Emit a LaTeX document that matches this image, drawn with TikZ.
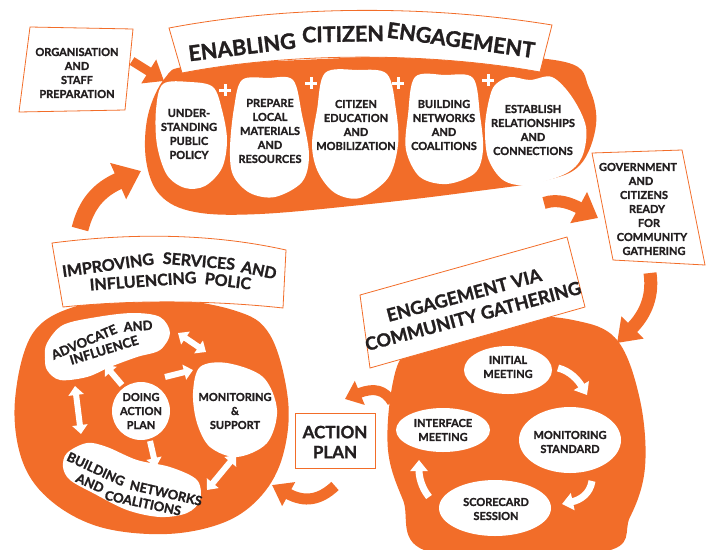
\documentclass[tikz,border=0pt]{standalone}
\usepackage{fontspec}
\setmainfont{Lato}[BoldFeatures={FakeBold=1.3}]
\usetikzlibrary{arrows.meta}
\definecolor{org}{RGB}{242,109,41}
\definecolor{ink}{RGB}{35,31,32}
\begin{document}
\begin{tikzpicture}[x=1pt,y=-1pt,
  lbl/.style={font=\bfseries\fontsize{11}{14}\selectfont, text=ink, align=center, inner sep=0pt},
  mid/.style={font=\bfseries\fontsize{13}{15}\selectfont, text=ink, inner sep=0pt},
  big/.style={font=\bfseries\fontsize{16}{20}\selectfont, text=ink, inner sep=0pt},
  huge/.style={font=\bfseries\fontsize{18}{21}\selectfont, text=ink, inner sep=0pt},
  ttl/.style={font=\bfseries\fontsize{21.5}{26}\selectfont, text=ink, inner sep=0pt},
  boxq/.style={fill=white, draw=org, line width=0.8pt},
  wshape/.style={fill=white, draw=none},
  plus/.style={draw=white, line width=3pt},
  oarr/.style={draw=org, line width=#1},
  warr/.style={draw=white, line width=6pt},
]
\useasboundingbox (0,0) rectangle (708,549);

% ---------- top blob ----------
\fill[org] plot[smooth cycle, tension=0.6] coordinates {(165,78) (148,115) (146,160) (160,195) (195,212) (260,214) (370,204) (470,192) (543,181) (580,165) (596,125) (589,88) (565,62) (450,55) (300,60) (190,66)};
\fill[wshape] plot[smooth cycle, tension=0.55] coordinates {(163,84) (190,82) (213,87) (222,110) (227,140) (222,168) (205,186) (185,188) (167,175) (157,145) (156,110)};
\fill[wshape] plot[smooth cycle, tension=0.55] coordinates {(242,80) (268,78) (293,80) (302,115) (309,155) (302,182) (275,197) (250,193) (233,175) (230,148) (234,108)};
\fill[wshape] plot[smooth cycle, tension=0.55] coordinates {(325,73) (357,70) (387,74) (396,110) (398,145) (388,178) (360,198) (335,193) (318,172) (312,145) (317,110)};
\fill[wshape] plot[smooth cycle, tension=0.55] coordinates {(415,77) (445,75) (473,78) (480,115) (483,150) (475,173) (447,184) (420,177) (406,150) (408,115)};
\fill[wshape] plot[smooth cycle, tension=0.55] coordinates {(495,85) (510,77) (530,80) (552,77) (572,97) (586,127) (582,157) (565,174) (527,185) (503,180) (488,158) (485,127) (489,100)};
\foreach \px/\py in {225/90, 311/83, 398/83, 488/80}
  \draw[plus] (\px-6,\py) -- (\px+6,\py) (\px,\py-6) -- (\px,\py+6);

\node[lbl] (t1) at (189,134) {UNDER-\\STANDING\\PUBLIC\\POLICY};
\node[lbl] (t2) at (270,131) {PREPARE\\LOCAL\\MATERIALS\\AND\\RESOURCES};
\node[lbl] (t3) at (356,125) {CITIZEN\\EDUCATION\\AND\\MOBILIZATION};
\node[lbl] (t4) at (444,125) {BUILDING\\NETWORKS\\AND\\COALITIONS};
\node[lbl] (t5) at (533,130) {ESTABLISH\\RELATIONSHIPS\\AND\\CONNECTIONS};

% ---------- banner ----------
\draw[boxq] (169,28) .. controls (290,5) and (430,5) .. (552,25) -- (540,72) .. controls (430,52) and (290,52) .. (182,73) -- cycle;
\node[ttl, rotate=7] (w1) at (242,47) {ENABLING};
\node[ttl, rotate=1] (w2) at (343,34) {CITIZEN};
\node[ttl, rotate=-8] (w3) at (461,40) {ENGAGEMENT};

% ---------- organisation box ----------
\draw[boxq] (30,27) -- (133,29) -- (125,110) -- (19,112) -- cycle;
\node[lbl] (org) at (77,73) {ORGANISATION\\AND\\STAFF\\PREPARATION};
\coordinate (oa) at (132,61);
\coordinate (ob) at (164,81);
\draw[oarr=9pt, -{Triangle[length=18pt,width=27pt]}] (oa) -- (ob);

% ---------- government box ----------
\draw[boxq] (592,153) -- (682,150) -- (705,265) -- (613,260) -- cycle;
\foreach \i/\gx/\gy/\gt in {1/638/167/GOVERNMENT, 2/641/181/AND, 3/644/195/CITIZENS, 4/647/209/READY, 5/649/223/FOR, 6/652/237/COMMUNITY, 7/654/251/GATHERING}
  \node[lbl] (g\i) at (\gx,\gy) {\gt};
\coordinate (ga) at (544,203);
\coordinate (gb) at (598,218);
\draw[oarr=12pt, -{Triangle[length=22pt,width=34pt]}] (ga) .. controls (558,198) and (572,204) .. (gb);
\coordinate (gc) at (650,273);
\coordinate (gd) at (617,343);
\draw[oarr=13pt, -{Triangle[length=22pt,width=30pt]}] (gc) .. controls (654,300) and (642,318) .. (gd);

% ---------- bottom-right circle ----------
\fill[org] plot[smooth cycle, tension=0.6] coordinates {(407,350) (450,323) (500,315) (573,320) (617,340) (640,400) (645,467) (630,517) (602,552) (430,552) (403,500) (388,450) (392,387)};
\fill[white] (508,370) ellipse [x radius=44, y radius=24];
\fill[white] (570,440) ellipse [x radius=51, y radius=33];
\fill[white] (495,508) ellipse [x radius=56, y radius=28];
\fill[white] (443,430) ellipse [x radius=47, y radius=22];
\node[lbl] (e1) at (508,367) {INITIAL\\MEETING};
\node[lbl] (e2) at (570,442) {MONITORING\\STANDARD};
\node[lbl] (e3) at (496,509) {SCORECARD\\SESSION};
\node[lbl] (e4) at (443,430) {INTERFACE\\MEETING};
\coordinate (c1a) at (558,368);
\coordinate (c1b) at (587,395);
\draw[draw=white, line width=7pt, -{Triangle[length=11pt,width=17pt]}] (c1a) .. controls (570,371) and (578,380) .. (c1b);
\coordinate (c2a) at (592,481);
\coordinate (c2b) at (562,504);
\draw[draw=white, line width=7pt, -{Triangle[length=11pt,width=17pt]}] (c2a) .. controls (590,494) and (580,500) .. (c2b);
\coordinate (c3a) at (429,497);
\coordinate (c3b) at (419,460);
\draw[draw=white, line width=7pt, -{Triangle[length=11pt,width=17pt]}] (c3a) .. controls (421,487) and (419,476) .. (c3b);

% ---------- engagement via box ----------
\draw[boxq] (360,295) -- (567,237) -- (585,307) -- (370,368) -- cycle;
\node[huge, rotate=15] (v1) at (464,295) {ENGAGEMENT VIA};
\node[huge, rotate=15] (v2) at (473,316) {COMMUNITY GATHERING};

% ---------- action plan ----------
\draw[boxq] (295,413) rectangle (375,468);
\node[font=\bfseries\fontsize{17}{20}\selectfont, text=ink, align=center, inner sep=0pt] (ap) at (335,442) {ACTION\\PLAN};
\coordinate (aa) at (392,402);
\coordinate (ab) at (345,399);
\draw[oarr=10pt, -{Triangle[length=16pt,width=25pt]}] (aa) .. controls (385,390) and (374,387) .. (ab);
\coordinate (ac) at (335,486);
\coordinate (ad) at (272,485);
\draw[oarr=11pt, -{Triangle[length=19pt,width=26pt]}] (ac) .. controls (320,500) and (305,503) .. (ad);

% ---------- bottom-left circle ----------
\fill[org] plot[smooth cycle, tension=0.6] coordinates {(15,400) (33,333) (80,305) (150,297) (233,310) (270,335) (288,400) (283,455) (262,495) (225,522) (167,534) (100,527) (50,500) (22,460)};
\draw[boxq] (52,243) .. controls (130,233) and (210,233) .. (286,250) -- (283,308) .. controls (210,300) and (130,300) .. (63,307) -- cycle;
\node[big, rotate=8] (i1) at (108,265) {IMPROVING};
\node[big, rotate=-5] (i2) at (199,261) {SERVICES};
\node[big, rotate=-12] (i3) at (259,270) {AND};
\node[big, rotate=4] (i4) at (143,281) {INFLUENCING};
\node[big, rotate=-7] (i5) at (228,281) {POLIC};

\fill[wshape] plot[smooth cycle, tension=0.55] coordinates {(47,343) (63,325) (97,317) (133,313) (160,317) (170,333) (160,350) (137,357) (110,367) (87,377) (60,380) (47,370) (45,357)};
\fill[wshape] (141,411) circle [radius=29];
\fill[wshape] plot[smooth cycle, tension=0.55] coordinates {(200,367) (227,363) (263,377) (277,410) (267,443) (237,457) (210,447) (197,423) (193,393)};
\fill[wshape] plot[smooth cycle, tension=0.55] coordinates {(67,453) (87,443) (107,447) (137,460) (170,467) (197,480) (200,500) (187,513) (160,517) (127,510) (93,493) (70,480) (63,467)};

\node[mid, rotate=23] (ad1) at (84,342) {ADVOCATE};
\node[mid, rotate=4] (ad2) at (138,326) {AND};
\node[mid, rotate=17] (ad3) at (104,350) {INFLUENCE};
\node[lbl] (dp) at (141,411) {DOING\\ACTION\\PLAN};
\node[lbl] (ms) at (235,411) {MONITORING\\\&\\SUPPORT};
\node[mid, rotate=-25] (b1) at (96,469) {BUILDING};
\node[mid, rotate=-13] (b2) at (166,493) {NETWORKS};
\node[mid, rotate=-24] (b3) at (90,483) {AND};
\node[mid, rotate=-12] (b4) at (143,503) {COALITIONS};

\coordinate (w1a) at (178,333); \coordinate (w1b) at (206,352);
\coordinate (w2a) at (122,385); \coordinate (w2b) at (105,365);
\coordinate (w3a) at (165,377); \coordinate (w3b) at (193,370);
\coordinate (w4a) at (75,386);  \coordinate (w4b) at (81,434);
\coordinate (w5a) at (150,441); \coordinate (w5b) at (156,467);
\coordinate (w6a) at (207,490); \coordinate (w6b) at (236,455);
\draw[warr, {Triangle[length=9pt,width=15pt]}-{Triangle[length=9pt,width=15pt]}] (w1a) -- (w1b);
\draw[warr, -{Triangle[length=9pt,width=15pt]}] (w2a) -- (w2b);
\draw[warr, -{Triangle[length=9pt,width=15pt]}] (w3a) -- (w3b);
\draw[warr, {Triangle[length=9pt,width=15pt]}-{Triangle[length=9pt,width=15pt]}] (w4a) -- (w4b);
\draw[warr, -{Triangle[length=9pt,width=15pt]}] (w5a) -- (w5b);
\draw[warr, {Triangle[length=9pt,width=15pt]}-{Triangle[length=9pt,width=15pt]}] (w6a) -- (w6b);

% ---------- big arrow up ----------
\coordinate (ua) at (80,229);
\coordinate (ub) at (141,171);
\draw[oarr=17pt, -{Triangle[length=25pt,width=38pt]}] (ua) .. controls (86,205) and (98,190) .. (ub);
\end{tikzpicture}
\end{document}
